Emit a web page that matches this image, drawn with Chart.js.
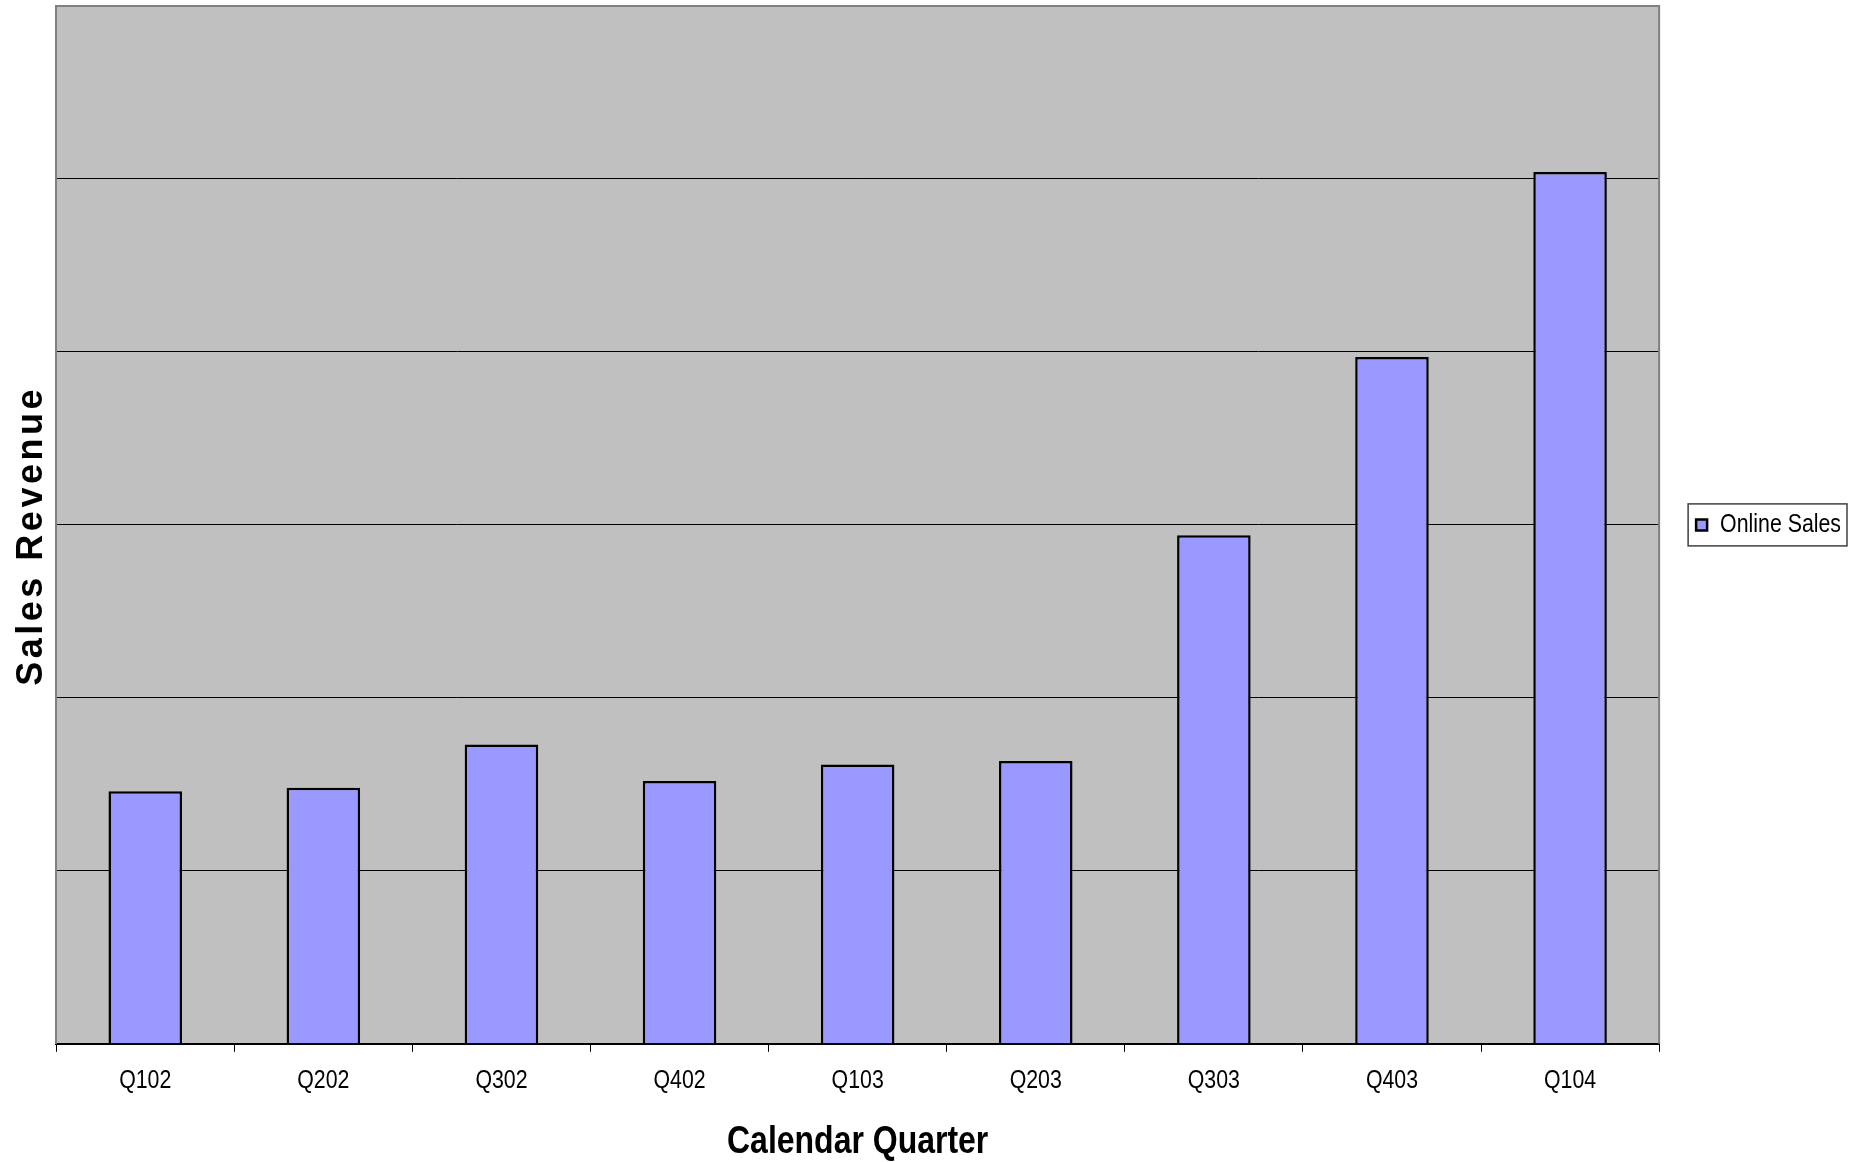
<!DOCTYPE html>
<html>
<head>
<meta charset="utf-8">
<script src="https://cdn.jsdelivr.net/npm/chart.js@4/dist/chart.umd.min.js"></script>
<style>
  html, body { margin: 0; padding: 0; background: #fff; }
  #wrap { width: 1860px; height: 1162px; }
</style>
</head>
<body>
<div id="wrap"><canvas id="chart"></canvas></div>
<script>
const quarters = ["Q102", "Q202", "Q302", "Q402", "Q103", "Q203", "Q303", "Q403", "Q104"];
const onlineSales = [1.46, 1.48, 1.73, 1.52, 1.615, 1.635, 2.94, 3.97, 5.04];
const seriesName = "Online Sales";
const yMin = 0;
const yMax = 6;
const yStep = 1;

const font = "'Liberation Sans', Arial, sans-serif";
const narrowK = 0.82; // pas d'Arial Narrow installée : on compresse le texte

// enveloppe une méthode de dessin pour écrire le texte en « narrow »
function squeezed(fn, k) {
  return function (...args) {
    const ctx = this.ctx;
    const fill = ctx.fillText;
    const measure = ctx.measureText;
    ctx.fillText = function (t, x, y) {
      this.save();
      this.translate(x, y);
      this.scale(k, 1);
      fill.call(this, t, 0, 0);
      this.restore();
    };
    ctx.measureText = function (t) {
      const m = measure.call(this, t);
      return {
        width: m.width * k,
        actualBoundingBoxAscent: m.actualBoundingBoxAscent,
        actualBoundingBoxDescent: m.actualBoundingBoxDescent,
      };
    };
    try {
      return fn.apply(this, args);
    } finally {
      delete ctx.fillText;
      delete ctx.measureText;
    }
  };
}

const excelLook = {
  id: "excelLook",
  beforeUpdate(chart) {
    const lg = chart.legend;
    if (lg && !lg._squeezed) {
      lg.fit = squeezed(lg.fit, narrowK);
      lg.draw = squeezed(lg.draw, narrowK);
      lg._squeezed = true;
    }
  },
  beforeDraw(chart) {
    const { ctx, chartArea: a } = chart;
    ctx.save();
    ctx.fillStyle = "#c0c0c0";
    ctx.fillRect(a.left, a.top, a.right - a.left, a.bottom - a.top);
    ctx.restore();

    const xs = chart.scales.x;
    if (xs && !xs._squeezed) {
      xs.drawLabels = squeezed(xs.drawLabels, narrowK);
      xs.drawTitle = squeezed(xs.drawTitle, narrowK);
      xs._squeezed = true;
    }
    // titre vertical : lettres espacées, un peu sous le centre
    const ys = chart.scales.y;
    if (ys && !ys._spaced) {
      const orig = ys.drawTitle;
      ys.drawTitle = function (...args) {
        const c = this.ctx;
        c.save();
        c.letterSpacing = "3.5px";
        c.translate(0, 11);
        orig.apply(this, args);
        c.restore();
      };
      ys._spaced = true;
    }
  },
  afterDraw(chart) {
    const { ctx, chartArea: a } = chart;
    ctx.save();
    ctx.strokeStyle = "#808080";
    ctx.lineWidth = 2;
    ctx.beginPath();
    ctx.moveTo(a.left, a.top);
    ctx.lineTo(a.right, a.top);
    ctx.lineTo(a.right, a.bottom);
    ctx.stroke();

    // cadre de la légende
    const hb = chart.legend?.legendHitBoxes?.[0];
    if (hb) {
      const cy = hb.top + hb.height / 2;
      ctx.strokeStyle = "#404040";
      ctx.lineWidth = 1.5;
      ctx.strokeRect(hb.left - 8, cy - 21, hb.width + 14, 42);
    }
    ctx.restore();
  },
};

new Chart(document.getElementById("chart"), {
  type: "bar",
  data: {
    labels: quarters,
    datasets: [
      {
        label: seriesName,
        data: onlineSales,
        backgroundColor: "#9999ff",
        borderColor: "#000",
        borderWidth: 2.5,
        barPercentage: 1,
        categoryPercentage: 0.413,
      },
    ],
  },
  options: {
    responsive: true,
    maintainAspectRatio: false,
    devicePixelRatio: 1,
    animation: false,
    layout: { padding: { top: 6, right: 9, bottom: 0, left: 0 } },
    plugins: {
      legend: {
        display: true,
        position: "right",
        fullSize: false,
        labels: {
          boxWidth: 11,
          boxHeight: 11,
          padding: 37,
          color: "#000",
          font: { size: 26, family: font },
        },
      },
      tooltip: { enabled: false },
    },
    scales: {
      x: {
        offset: true,
        grid: {
          offset: true,
          drawOnChartArea: false,
          drawTicks: true,
          tickLength: 8,
          color: "#000",
          lineWidth: 1,
        },
        border: { color: "#000", width: 2 },
        ticks: {
          color: "#000",
          padding: 13,
          maxRotation: 0,
          autoSkip: false,
          font: { size: 26, family: font },
        },
        title: {
          display: true,
          text: "Calendar Quarter",
          color: "#000",
          padding: { top: 14, bottom: 0 },
          font: { size: 39, weight: "bold", family: font, lineHeight: 1 },
        },
      },
      y: {
        min: yMin,
        max: yMax,
        ticks: { display: false, stepSize: yStep },
        grid: { drawTicks: false, color: "#000", lineWidth: 1 },
        border: { color: "#808080", width: 2 },
        title: {
          display: true,
          text: "Sales Revenue",
          color: "#000",
          padding: { top: 10, bottom: 3 },
          font: { size: 36, weight: "bold", family: font },
        },
      },
    },
  },
  plugins: [excelLook],
});
</script>
</body>
</html>
